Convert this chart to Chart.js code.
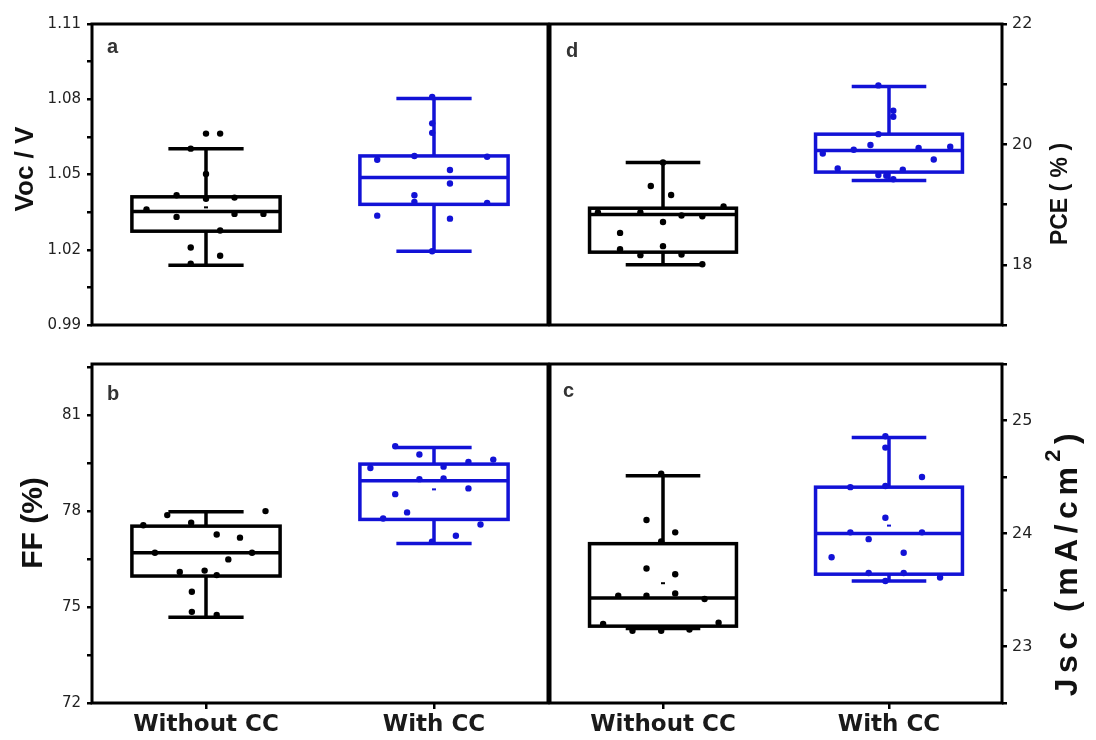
<!DOCTYPE html>
<html>
<head>
<meta charset="utf-8">
<script src="https://cdn.jsdelivr.net/npm/chart.js@4.4.1/dist/chart.umd.min.js"></script>
<style>
  body { margin: 0; background: #fff; }
  #wrap { position: relative; width: 1096px; height: 740px; }
  #wrap canvas { position: absolute; left: 0; top: 0; }
</style>
</head>
<body>
<div id="wrap">
  <canvas id="panelA" width="1096" height="740"></canvas>
  <canvas id="panelD" width="1096" height="740"></canvas>
  <canvas id="panelB" width="1096" height="740"></canvas>
  <canvas id="panelC" width="1096" height="740"></canvas>
</div>
<script>
const categories = ["Without CC", "With CC"];

// box stats: [lower whisker, Q1, median, Q3, upper whisker]
// (a) Voc
const vocWithout = [1.0144, 1.0176, 1.0209, 1.0277, 1.0331, 1.0361, 1.0343, 1.0343, 1.0417, 1.0403, 1.0408, 1.0502, 1.0603, 1.0663, 1.0663];
const vocWithoutJit = [-0.067, 0.062, -0.067, 0.062, -0.129, -0.261, 0.125, 0.252, -0.129, 0, 0.125, 0, -0.067, 0, 0.062];
const vocWith = [1.0809, 1.0704, 1.0666, 1.0559, 1.0574, 1.0571, 1.0518, 1.0464, 1.0417, 1.0391, 1.0387, 1.0336, 1.0324, 1.0194];
const vocWithJit = [-0.008, -0.008, -0.008, -0.249, -0.086, 0.233, 0.07, 0.07, -0.086, -0.086, 0.233, -0.249, 0.07, -0.008];
const vocBoxWithout = [1.0138, 1.0274, 1.0352, 1.0411, 1.0603];
const vocBoxWith = [1.0194, 1.0381, 1.0488, 1.0574, 1.0803];
const vocMeans = [1.0369, null];
const vocTicks = [0.99, 1.02, 1.05, 1.08, 1.11];

// (b) FF
const ffWithout = [77.56, 77.875, 77.64, 77.27, 77.17, 78.0, 76.7, 76.7, 76.49, 76.1, 76.14, 76.0, 75.48, 74.85, 74.75];
const ffWithoutJit = [-0.275, -0.17, -0.065, 0.047, 0.149, 0.261, -0.224, 0.202, 0.098, -0.115, -0.006, 0.047, -0.062, -0.062, 0.047];
const ffWith = [80.03, 79.77, 79.35, 79.39, 79.54, 79.61, 79.0, 79.02, 78.71, 78.53, 77.96, 77.77, 77.58, 77.23, 77.04];
const ffWithJit = [-0.17, -0.064, -0.279, 0.042, 0.151, 0.26, -0.064, 0.042, 0.151, -0.17, -0.118, -0.223, 0.204, 0.096, -0.009];
const ffBoxWithout = [74.68, 75.97, 76.7, 77.53, 77.98];
const ffBoxWith = [76.99, 77.74, 78.95, 79.47, 79.99];
const ffMeans = [null, 78.68];
const ffTicks = [72, 75, 78, 81];

// (d) PCE
const pceWithout = [18.87, 18.87, 18.71, 18.82, 18.805, 18.97, 18.53, 19.31, 19.16, 19.7, 18.26, 18.16, 18.31, 18.17, 18.01];
const pceWithoutJit = [-0.288, -0.1, 0, 0.082, 0.174, 0.268, -0.19, -0.054, 0.036, 0, -0.19, -0.1, 0, 0.082, 0.174];
const pceWith = [20.98, 20.56, 20.46, 20.17, 19.85, 19.91, 19.99, 19.94, 19.96, 19.75, 19.6, 19.58, 19.49, 19.48, 19.42];
const pceWithJit = [-0.047, 0.019, 0.019, -0.047, -0.293, -0.156, -0.082, 0.131, 0.271, 0.198, -0.227, 0.061, -0.047, -0.012, 0.019];
const pceBoxWithout = [18.0, 18.21, 18.835, 18.94, 19.7];
const pceBoxWith = [19.4, 19.54, 19.9, 20.17, 20.96];
const pceMeans = [null, null];
const pceTicks = [18, 20, 22];

// (c) Jsc
const jscWithout = [24.53, 24.12, 24.01, 23.69, 23.64, 23.45, 23.45, 23.47, 23.42, 23.2, 23.14, 23.14, 23.15, 23.21, 23.93];
const jscWithoutJit = [-0.008, -0.073, 0.054, -0.073, 0.054, -0.198, -0.073, 0.054, 0.184, -0.265, -0.135, -0.008, 0.117, 0.246, -0.008];
const jscWith = [24.86, 24.76, 24.5, 24.41, 24.42, 24.14, 24.01, 24.01, 23.95, 23.79, 23.83, 23.65, 23.65, 23.58, 23.61];
const jscWithJit = [-0.016, -0.016, 0.146, -0.171, -0.016, -0.016, -0.171, 0.146, -0.09, -0.254, 0.065, -0.09, 0.065, -0.016, 0.226];
const jscBoxWithout = [23.16, 23.18, 23.43, 23.91, 24.51];
const jscBoxWith = [23.58, 23.64, 24.0, 24.41, 24.85];
const jscMeans = [23.56, 24.07];
const jscTicks = [23, 24, 25];

const BLACK = "#000000";
const BLUE = "#1212d6";
const W = 1096, H = 740, XH = 37;
const BOX_HALF = 0.325, CAP_HALF = 0.165;

// tick values incl. the unlabelled minor ticks half way
function withMinor(ticks, range) {
  const step = (ticks[1] - ticks[0]) / 2;
  let start = ticks[0];
  while (start - step >= range[0] - 1e-9) start -= step;
  const out = [];
  for (let k = 0; start + k * step <= range[1] + 1e-9; k++) {
    out.push(+(start + k * step).toFixed(6));
  }
  return out;
}

function boxPlugin(boxes) {
  return {
    id: "boxes",
    beforeDatasetsDraw(chart) {
      const { ctx, scales: { x, y } } = chart;
      ctx.save();
      ctx.lineWidth = 3.5;
      ctx.lineCap = "butt";
      boxes.forEach((b) => {
        const [lo, q1, med, q3, hi] = b.stats;
        const xc = x.getPixelForValue(b.pos);
        const xl = x.getPixelForValue(b.pos - BOX_HALF);
        const xr = x.getPixelForValue(b.pos + BOX_HALF);
        const cl = x.getPixelForValue(b.pos - CAP_HALF);
        const cr = x.getPixelForValue(b.pos + CAP_HALF);
        ctx.strokeStyle = b.color;
        ctx.beginPath();
        ctx.moveTo(xc, y.getPixelForValue(q3));
        ctx.lineTo(xc, y.getPixelForValue(hi));
        ctx.moveTo(cl, y.getPixelForValue(hi));
        ctx.lineTo(cr, y.getPixelForValue(hi));
        ctx.moveTo(xc, y.getPixelForValue(q1));
        ctx.lineTo(xc, y.getPixelForValue(lo));
        ctx.moveTo(cl, y.getPixelForValue(lo));
        ctx.lineTo(cr, y.getPixelForValue(lo));
        ctx.moveTo(xl, y.getPixelForValue(med));
        ctx.lineTo(xr, y.getPixelForValue(med));
        ctx.stroke();
        ctx.strokeRect(xl, y.getPixelForValue(q3), xr - xl, y.getPixelForValue(q1) - y.getPixelForValue(q3));
        if (b.mean != null) {
          ctx.fillStyle = b.color;
          ctx.fillRect(xc - 2, y.getPixelForValue(b.mean) - 1, 4, 2);
        }
      });
      ctx.restore();
    },
  };
}

function framePlugin(letter, off) {
  return {
    id: "frame",
    afterDraw(chart) {
      const { ctx, chartArea: a } = chart;
      ctx.save();
      ctx.strokeStyle = "#000";
      ctx.lineWidth = 3;
      ctx.strokeRect(a.left, a.top, a.right - a.left, a.bottom - a.top);
      ctx.fillStyle = "#333";
      ctx.font = 'bold 20px "Liberation Sans", Arial, sans-serif';
      ctx.textBaseline = "alphabetic";
      ctx.fillText(letter, a.left + off[0], a.top + off[1]);
      ctx.restore();
    },
  };
}

// rotated axis title, text read bottom to top
function titlePlugin(t) {
  return {
    id: "axisTitle",
    afterDraw(chart) {
      const ctx = chart.ctx;
      ctx.save();
      ctx.translate(t.x, t.y);
      ctx.rotate(-Math.PI / 2);
      ctx.fillStyle = "#111";
      ctx.textBaseline = "alphabetic";
      ctx.letterSpacing = (t.spacing || 0) + "px";
      const parts = t.parts.map((p) => {
        ctx.font = `bold ${p.size}px "Liberation Sans", Arial, sans-serif`;
        return { ...p, w: ctx.measureText(p.text).width };
      });
      const total = parts.reduce((s, p) => s + p.w, 0);
      let u = -total / 2;
      parts.forEach((p) => {
        ctx.font = `bold ${p.size}px "Liberation Sans", Arial, sans-serif`;
        ctx.fillText(p.text, u, p.shift || 0);
        u += p.w;
      });
      ctx.restore();
    },
  };
}

function panel(id, cfg) {
  const left = cfg.side === "left";
  const ticks = cfg.ticks;
  const series = [
    { values: cfg.without, jit: cfg.withoutJit, color: BLACK, pos: 0.5 },
    { values: cfg.with, jit: cfg.withJit, color: BLUE, pos: 1.5 },
  ];
  const boxes = [
    { stats: cfg.boxWithout, mean: cfg.means[0], color: BLACK, pos: 0.5 },
    { stats: cfg.boxWith, mean: cfg.means[1], color: BLUE, pos: 1.5 },
  ];

  new Chart(document.getElementById(id), {
    type: "scatter",
    data: {
      datasets: series.map((s) => ({
        data: s.values.map((v, i) => ({ x: s.pos + s.jit[i], y: v })),
        backgroundColor: s.color,
        borderColor: s.color,
        borderWidth: 0,
        pointRadius: 3.2,
        pointHoverRadius: 3.2,
      })),
    },
    options: {
      responsive: false,
      animation: false,
      events: [],
      layout: {
        padding: {
          left: left ? 0 : cfg.area.l,
          right: left ? W - cfg.area.r : 0,
          top: cfg.area.t,
          bottom: cfg.showX ? H - cfg.area.b - XH : H - cfg.area.b,
        },
      },
      plugins: { legend: { display: false }, tooltip: { enabled: false } },
      scales: {
        x: {
          type: "linear",
          min: 0,
          max: 2,
          display: cfg.showX,
          position: "bottom",
          afterBuildTicks: (s) => { s.ticks = categories.map((c, i) => ({ value: i + 0.5 })); },
          afterFit: (s) => { s.height = XH; },
          border: { display: false },
          grid: { drawOnChartArea: false, drawTicks: true, tickLength: 6, tickColor: "#000", lineWidth: 2.5 },
          ticks: {
            padding: 2,
            color: "#1a1a1a",
            autoSkip: false,
            maxRotation: 0,
            font: { family: "DejaVu Sans", weight: "bold", size: 23 },
            callback: (v, i) => categories[i],
          },
        },
        y: {
          type: "linear",
          position: cfg.side,
          min: cfg.range[0],
          max: cfg.range[1],
          afterBuildTicks: (s) => { s.ticks = withMinor(ticks, cfg.range).map((v) => ({ value: v })); },
          afterFit: (s) => { s.width = left ? cfg.area.l : W - cfg.area.r; },
          border: { display: false },
          grid: { drawOnChartArea: false, drawTicks: true, tickLength: 5, tickColor: "#000", lineWidth: 2.5 },
          ticks: {
            padding: left ? 6 : 5,
            color: "#222",
            font: { family: "DejaVu Sans", size: left ? 15 : 16 },
            callback: (v) => (ticks.some((t) => Math.abs(t - v) < 1e-9) ? v.toFixed(cfg.decimals) : ""),
          },
        },
      },
    },
    plugins: [boxPlugin(boxes), framePlugin(cfg.letter, cfg.letterOff), titlePlugin(cfg.title)],
  });
}

panel("panelA", {
  area: { l: 92, r: 548, t: 24, b: 362 }, side: "left", showX: false,
  range: [0.99, 1.11], ticks: vocTicks, decimals: 2,
  without: vocWithout, withoutJit: vocWithoutJit, with: vocWith, withJit: vocWithJit,
  boxWithout: vocBoxWithout, boxWith: vocBoxWith, means: vocMeans,
  letter: "a", letterOff: [15, 29],
  title: { x: 33, y: 169, parts: [{ text: "Voc / V", size: 26 }] },
});

panel("panelD", {
  area: { l: 550, r: 1002, t: 24, b: 362 }, side: "right", showX: false,
  range: [17, 22], ticks: pceTicks, decimals: 0,
  without: pceWithout, withoutJit: pceWithoutJit, with: pceWith, withJit: pceWithJit,
  boxWithout: pceBoxWithout, boxWith: pceBoxWith, means: pceMeans,
  letter: "d", letterOff: [16, 33],
  title: { x: 1067, y: 194, parts: [{ text: "PCE ( % )", size: 23 }] },
});

panel("panelB", {
  area: { l: 92, r: 548, t: 364, b: 703 }, side: "left", showX: true,
  range: [72, 82.6], ticks: ffTicks, decimals: 0,
  without: ffWithout, withoutJit: ffWithoutJit, with: ffWith, withJit: ffWithJit,
  boxWithout: ffBoxWithout, boxWith: ffBoxWith, means: ffMeans,
  letter: "b", letterOff: [15, 36],
  title: { x: 42, y: 523, parts: [{ text: "FF (%)", size: 30 }] },
});

panel("panelC", {
  area: { l: 550, r: 1002, t: 364, b: 703 }, side: "right", showX: true,
  range: [22.5, 25.5], ticks: jscTicks, decimals: 0,
  without: jscWithout, withoutJit: jscWithoutJit, with: jscWith, withJit: jscWithJit,
  boxWithout: jscBoxWithout, boxWith: jscBoxWith, means: jscMeans,
  letter: "c", letterOff: [13, 33],
  title: {
    x: 1077, y: 562, spacing: 5.5,
    parts: [
      { text: "Jsc (mA/cm", size: 32 },
      { text: "2", size: 22, shift: -17 },
      { text: ")", size: 32 },
    ],
  },
});
</script>
</body>
</html>
